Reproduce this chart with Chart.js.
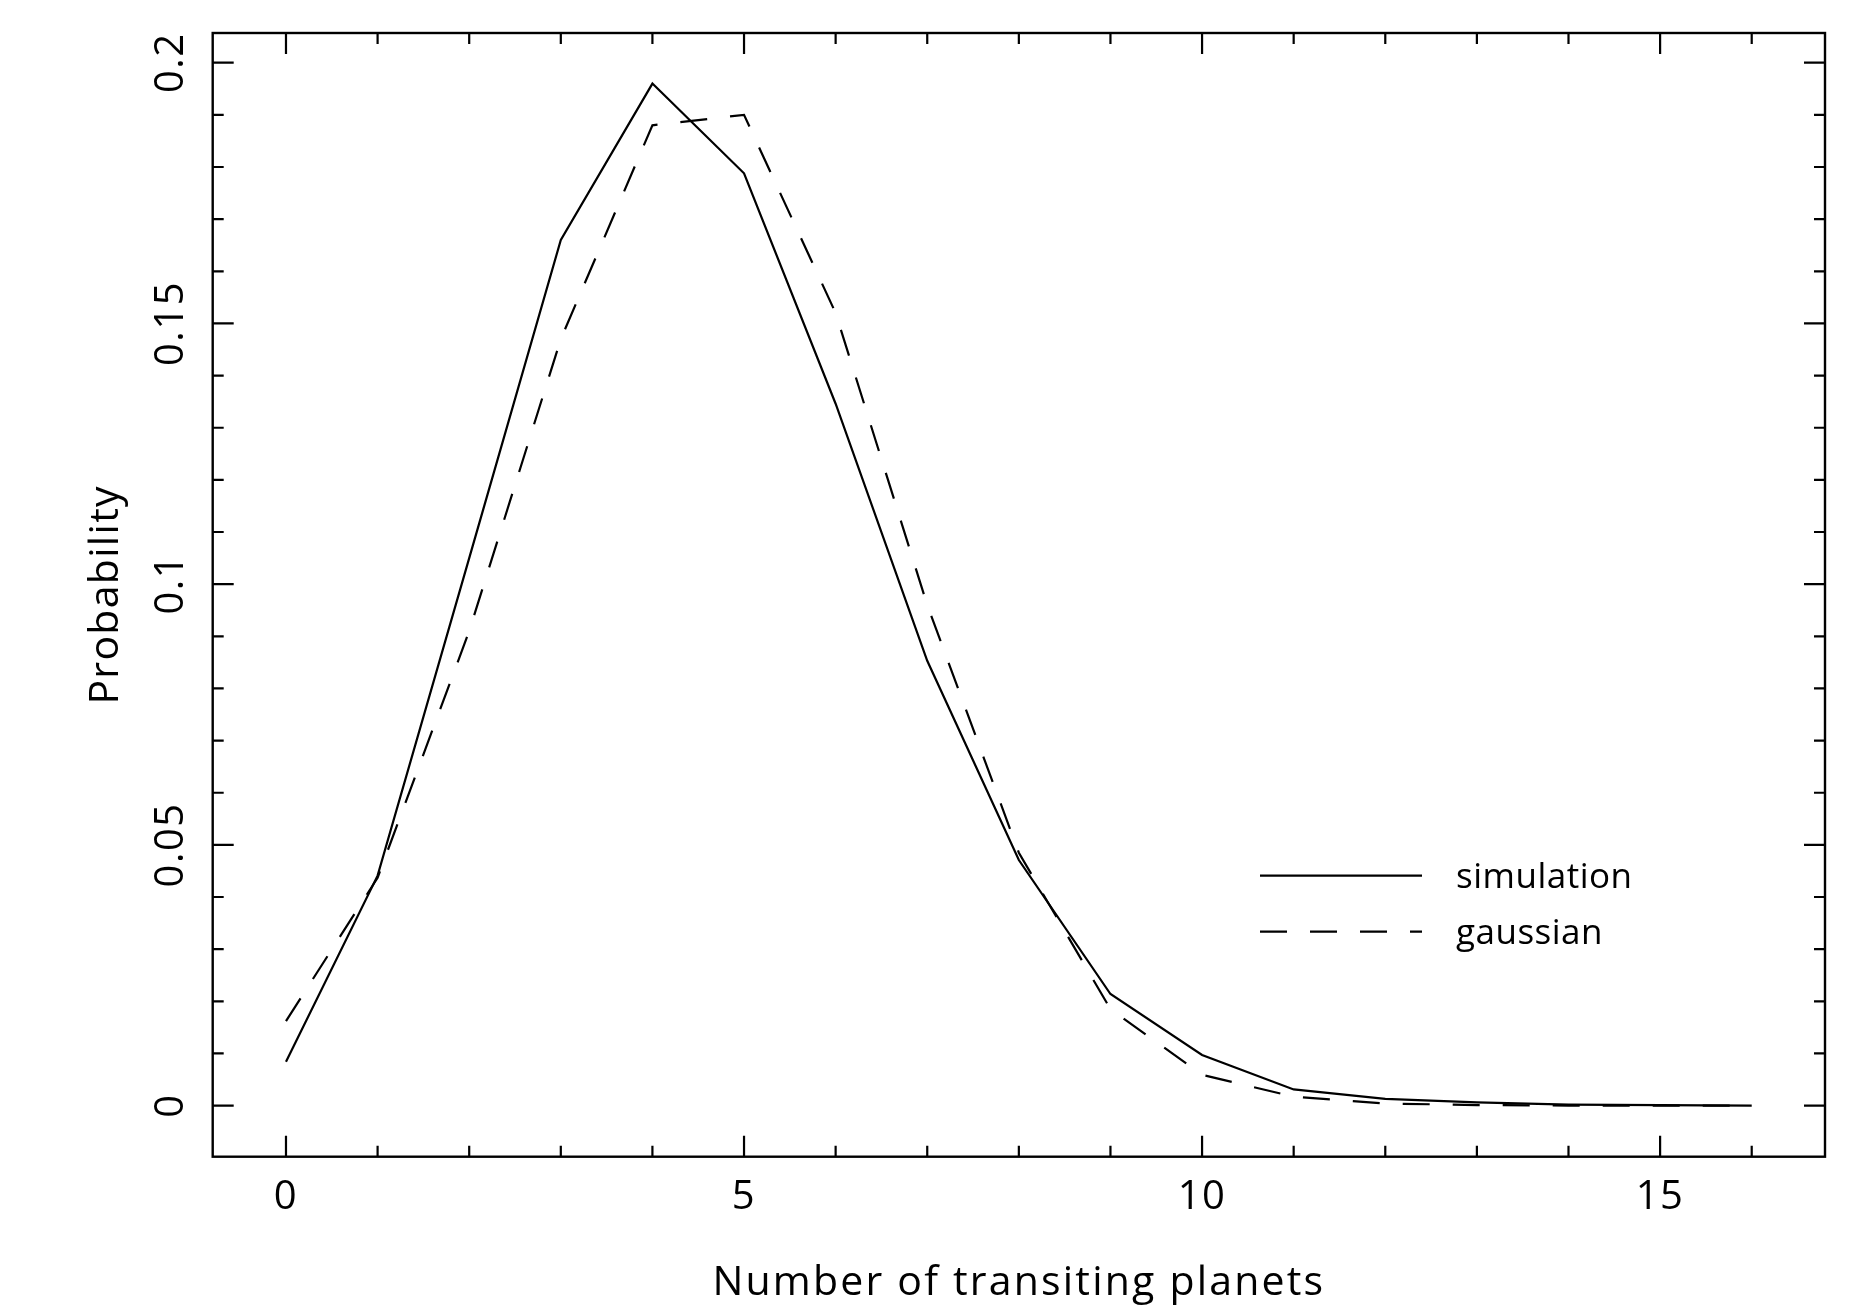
<!DOCTYPE html>
<html>
<head>
<meta charset="utf-8">
<title>Transiting planets</title>
<script src="https://cdn.jsdelivr.net/npm/chart.js@4.4.1/dist/chart.umd.min.js"></script>
<style>
  html, body { margin: 0; padding: 0; background: #fff; }
  canvas { display: block; }
</style>
</head>
<body>
<canvas id="chart" width="1872" height="1309"></canvas>
<script>
// number of transiting planets and the probability of each count
const planets = [0, 1, 2, 3, 4, 5, 6, 7, 8, 9, 10, 11, 12, 13, 14, 15, 16];
const simulation = [0.0084, 0.0441, 0.105, 0.166, 0.196, 0.1788, 0.1346, 0.0853, 0.0471,
                    0.0214, 0.0097, 0.0031, 0.0013, 0.0006, 0.0002, 0.0001, 0.0];
const gaussian = [0.0162, 0.0437, 0.091, 0.147, 0.188, 0.190, 0.152, 0.096, 0.0485,
                  0.0185, 0.0059, 0.0017, 0.0004, 0.0001, 0.0, 0.0, 0.0];

const seriesNames = ["simulation", "gaussian"];

const xMajorTicks = [0, 5, 10, 15];
const xTickLabels = ["0", "5", "10", "15"];
const yMajorTicks = [0, 0.05, 0.1, 0.15, 0.2];
const yTickLabels = ["0", "0.05", "0.1", "0.15", "0.2"];

const xTitle = "Number of transiting planets";
const yTitle = "Probability";

const FONT = '"Open Sans", "DejaVu Sans", sans-serif';
const GAUSS_DASH = [27, 23];

const toPoints = ys => planets.map((x, i) => ({ x: x, y: ys[i] }));

// frame with inward ticks on all four sides, tick labels, titles and legend
const framePlugin = {
  id: "frame",
  afterDraw(chart) {
    const ctx = chart.ctx;
    const xs = chart.scales.x;
    const ys = chart.scales.y;
    const { left, right, top, bottom } = chart.chartArea;

    ctx.save();
    ctx.strokeStyle = "#000";
    ctx.fillStyle = "#000";
    ctx.lineWidth = 2.4;
    ctx.lineCap = "butt";
    ctx.strokeRect(left, top, right - left, bottom - top);

    const major = 21, minor = 11;

    // x ticks, one per planet, longer on the labelled ones
    ctx.lineWidth = 2.2;
    for (let v = Math.ceil(xs.min); v <= xs.max; v++) {
      const px = xs.getPixelForValue(v);
      const len = xMajorTicks.includes(v) ? major : minor;
      ctx.beginPath();
      ctx.moveTo(px, bottom); ctx.lineTo(px, bottom - len);
      ctx.moveTo(px, top); ctx.lineTo(px, top + len);
      ctx.stroke();
    }

    // y ticks every 0.01
    for (let k = Math.ceil(ys.min * 100 - 1e-6); k <= Math.floor(ys.max * 100 + 1e-6); k++) {
      const v = k / 100;
      const py = ys.getPixelForValue(v);
      const len = k % 5 === 0 ? major : minor;
      ctx.beginPath();
      ctx.moveTo(left, py); ctx.lineTo(left + len, py);
      ctx.moveTo(right, py); ctx.lineTo(right - len, py);
      ctx.stroke();
    }

    // tick labels
    ctx.font = "40px " + FONT;
    ctx.letterSpacing = "1.5px";
    ctx.textAlign = "center";
    ctx.textBaseline = "alphabetic";
    xMajorTicks.forEach((v, i) => {
      ctx.fillText(xTickLabels[i], xs.getPixelForValue(v), 1209);
    });
    yMajorTicks.forEach((v, i) => {
      ctx.save();
      ctx.translate(183, ys.getPixelForValue(v));
      ctx.rotate(-Math.PI / 2);
      ctx.fillText(yTickLabels[i], 0, 0);
      ctx.restore();
    });

    // axis titles
    ctx.font = "41px " + FONT;
    ctx.letterSpacing = "2.2px";
    ctx.fillText(xTitle, (left + right) / 2, 1295);
    ctx.letterSpacing = "1.3px";
    ctx.save();
    ctx.translate(118, (top + bottom) / 2);
    ctx.rotate(-Math.PI / 2);
    ctx.fillText(yTitle, 0, 0);
    ctx.restore();

    // legend
    const lx0 = 1260, lx1 = 1422, tx = 1456;
    const rows = [875.7, 931.7];
    ctx.font = "35px " + FONT;
    ctx.letterSpacing = "0.5px";
    ctx.textAlign = "left";
    chart.data.datasets.forEach((ds, i) => {
      ctx.lineWidth = ds.borderWidth;
      ctx.setLineDash(ds.borderDash || []);
      ctx.beginPath();
      ctx.moveTo(lx0, rows[i]); ctx.lineTo(lx1, rows[i]);
      ctx.stroke();
      ctx.setLineDash([]);
      ctx.fillText(ds.label, tx, rows[i] + 12);
    });

    ctx.restore();
  }
};

new Chart(document.getElementById("chart"), {
  type: "line",
  data: {
    datasets: [
      {
        label: seriesNames[0],
        data: toPoints(simulation),
        borderColor: "#000",
        borderWidth: 2.2,
        pointRadius: 0,
        tension: 0,
        fill: false
      },
      {
        label: seriesNames[1],
        data: toPoints(gaussian),
        borderColor: "#000",
        borderWidth: 2.2,
        borderDash: GAUSS_DASH,
        pointRadius: 0,
        tension: 0,
        fill: false
      }
    ]
  },
  options: {
    responsive: false,
    animation: false,
    layout: { padding: { left: 212.7, right: 47, top: 33, bottom: 152.3 } },
    plugins: {
      legend: { display: false },
      tooltip: { enabled: false }
    },
    scales: {
      x: { type: "linear", min: -0.8, max: 16.8, display: false },
      y: { type: "linear", min: -0.0098, max: 0.2057, display: false }
    }
  },
  plugins: [framePlugin]
});
</script>
</body>
</html>
